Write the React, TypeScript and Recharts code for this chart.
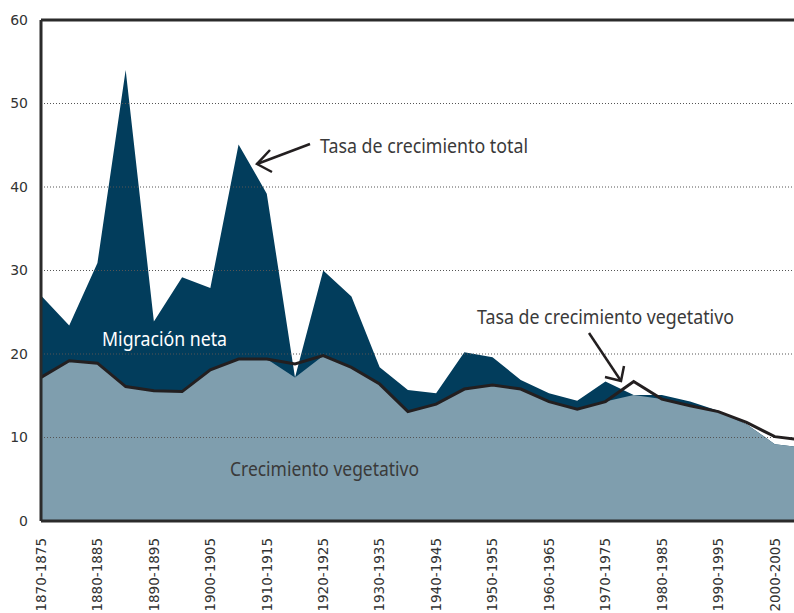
import React from 'react';
import { ComposedChart, Area, Line, XAxis, YAxis, ReferenceLine } from 'recharts';

const periods = [
  '1870-1875', '1875-1880', '1880-1885', '1885-1890', '1890-1895', '1895-1900', '1900-1905',
  '1905-1910', '1910-1915', '1915-1920', '1920-1925', '1925-1930', '1930-1935', '1935-1940',
  '1940-1945', '1945-1950', '1950-1955', '1955-1960', '1960-1965', '1965-1970', '1970-1975',
  '1975-1980', '1980-1985', '1985-1990', '1990-1995', '1995-2000', '2000-2005', '2005-2010',
];

const totalGrowth = [
  27.0, 23.4, 30.9, 54.0, 23.9, 29.2, 27.9, 45.1, 39.2, 17.2, 30.0, 26.9, 18.4, 15.7,
  15.3, 20.2, 19.6, 16.9, 15.3, 14.4, 16.7, 15.1, 15.1, 14.3, 13.2, 11.6, 9.2, 8.8,
];

const vegetativeGrowth = [
  17.2, 19.2, 18.9, 16.1, 15.6, 15.5, 18.1, 19.4, 19.4, 18.8, 19.8, 18.4, 16.4, 13.1,
  14.0, 15.8, 16.3, 15.8, 14.3, 13.4, 14.3, 16.7, 14.6, 13.8, 13.1, 11.8, 10.1, 9.7,
];

const yTicks = [0, 10, 20, 30, 40, 50, 60];
const gridValues = [10, 20, 30, 40, 50];

const data = periods.map((p, i) => ({
  period: p,
  total: totalGrowth[i],
  veg: vegetativeGrowth[i],
  base: Math.min(totalGrowth[i], vegetativeGrowth[i]),
}));

const DARK = '#023d5c';
const LIGHT = '#7f9eae';
const INK = '#231f20';
const TEXT = '#3a3a3a';
const TICK_FONT = "'DejaVu Sans', sans-serif";
const ANN_FONT = "'Noto Sans', sans-serif";

const XTick = (props: any) => {
  const { x, y, payload } = props;
  return (
    <g transform={`translate(${x},${y})`}>
      <text
        transform="rotate(-90)"
        x={-17}
        y={0}
        dy="0.35em"
        textAnchor="end"
        fill="#333"
        fontSize={13.5}
        fontFamily={TICK_FONT}
      >
        {payload.value}
      </text>
    </g>
  );
};

export default function App() {
  return (
    <div style={{ position: 'absolute', left: 0, top: 0, width: 794, height: 613, overflow: 'hidden', background: '#fff' }}>
      <ComposedChart
        width={808}
        height={613}
        data={data}
        margin={{ top: 20, right: 5, bottom: 0, left: 0 }}
      >
        <XAxis
          dataKey="period"
          interval={1}
          tickLine={false}
          tickSize={0}
          tickMargin={0}
          height={92}
          axisLine={{ stroke: '#2b2b2b', strokeWidth: 3 }}
          tick={<XTick />}
        />
        <YAxis
          width={41}
          domain={[0, 60]}
          ticks={yTicks}
          interval={0}
          tickLine={false}
          tickSize={0}
          tickMargin={13}
          axisLine={{ stroke: '#2b2b2b', strokeWidth: 3 }}
          tick={{ fill: '#333', fontSize: 14, fontFamily: TICK_FONT }}
        />
        <Area
          type="linear"
          dataKey="total"
          stroke="none"
          fill={DARK}
          fillOpacity={1}
          isAnimationActive={false}
          activeDot={false}
        />
        <Area
          type="linear"
          dataKey="base"
          stroke="none"
          fill={LIGHT}
          fillOpacity={1}
          isAnimationActive={false}
          activeDot={false}
        />
        {gridValues.map((v) => (
          <ReferenceLine key={v} y={v} stroke="#555" strokeWidth={1} strokeDasharray="1 2" />
        ))}
        <ReferenceLine y={60} stroke="#2b2b2b" strokeWidth={3} />
        <Line
          type="linear"
          dataKey="veg"
          stroke={INK}
          strokeWidth={3}
          dot={false}
          activeDot={false}
          isAnimationActive={false}
        />
      </ComposedChart>
      <svg
        width={794}
        height={613}
        style={{ position: 'absolute', left: 0, top: 0, pointerEvents: 'none' }}
      >
        <text x={320} y={153} fontSize={19} fontFamily={ANN_FONT} fill={TEXT} textLength={208} lengthAdjust="spacingAndGlyphs">
          Tasa de crecimiento total
        </text>
        <text x={102} y={346} fontSize={19} fontFamily={ANN_FONT} fill="#ffffff" textLength={125} lengthAdjust="spacingAndGlyphs">
          Migración neta
        </text>
        <text x={230} y={476} fontSize={19} fontFamily={ANN_FONT} fill={TEXT} textLength={189} lengthAdjust="spacingAndGlyphs">
          Crecimiento vegetativo
        </text>
        <text x={477} y={324} fontSize={19} fontFamily={ANN_FONT} fill={TEXT} textLength={257} lengthAdjust="spacingAndGlyphs">
          Tasa de crecimiento vegetativo
        </text>
        <g stroke={INK} strokeWidth={2.5} fill="none" strokeLinecap="butt">
          <line x1={310} y1={144} x2={257} y2={164} />
          <polyline points="270,150 257,164 272,172" />
          <line x1={589} y1={333} x2={621} y2={381} />
          <polyline points="605,377 621,381 624,366" />
        </g>
      </svg>
    </div>
  );
}
